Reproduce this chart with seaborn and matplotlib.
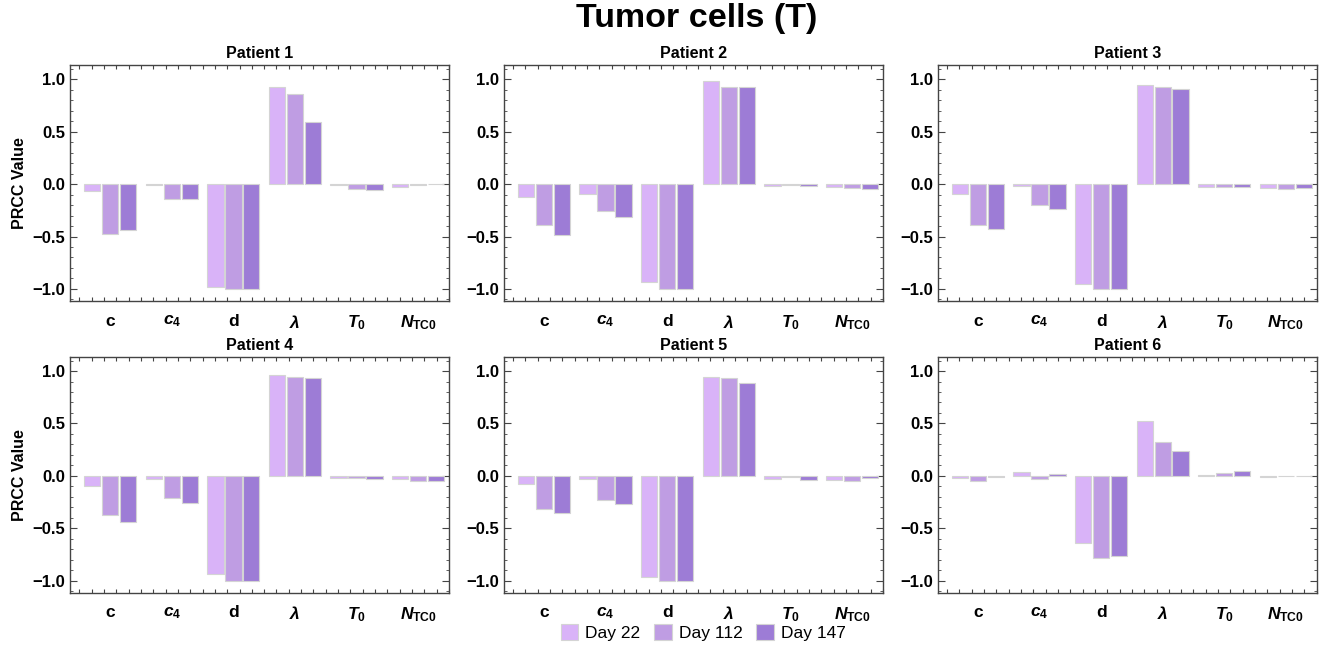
import numpy as np
import pandas as pd
import seaborn as sns
import matplotlib.pyplot as plt
from matplotlib.ticker import MultipleLocator

# parameters on the x axis and the three time points
params = ["c", "$c_4$", "d", r"$\lambda$", "$T_0$", r"$N_{\mathrm{TC0}}$"]
days = ["Day 22", "Day 112", "Day 147"]
day_colors = ["#D9B3F8", "#BF9DE3", "#9D7CD6"]

# PRCC values, one list per day: order c, c4, d, lambda, T0, NTC0
p1_day22 = [-0.07, -0.01, -0.98, 0.93, -0.01, -0.03]
p1_day112 = [-0.48, -0.14, -1.00, 0.86, -0.05, -0.01]
p1_day147 = [-0.44, -0.14, -1.00, 0.59, -0.06, 0.005]

p2_day22 = [-0.12, -0.09, -0.93, 0.98, -0.015, -0.03]
p2_day112 = [-0.39, -0.26, -1.00, 0.93, -0.01, -0.04]
p2_day147 = [-0.49, -0.31, -1.00, 0.93, -0.02, -0.05]

p3_day22 = [-0.09, -0.02, -0.95, 0.95, -0.03, -0.04]
p3_day112 = [-0.39, -0.20, -1.00, 0.93, -0.03, -0.05]
p3_day147 = [-0.43, -0.24, -1.00, 0.91, -0.03, -0.035]

p4_day22 = [-0.10, -0.03, -0.94, 0.96, -0.02, -0.03]
p4_day112 = [-0.37, -0.21, -1.00, 0.94, -0.02, -0.05]
p4_day147 = [-0.44, -0.26, -1.00, 0.93, -0.03, -0.05]

p5_day22 = [-0.08, -0.03, -0.96, 0.94, -0.03, -0.04]
p5_day112 = [-0.32, -0.23, -1.00, 0.93, -0.015, -0.05]
p5_day147 = [-0.35, -0.27, -1.00, 0.89, -0.035, -0.025]

p6_day22 = [-0.02, 0.04, -0.64, 0.52, 0.01, -0.01]
p6_day112 = [-0.05, -0.03, -0.78, 0.32, 0.03, -0.005]
p6_day147 = [-0.015, 0.02, -0.76, 0.24, 0.045, 0.003]

patients = {
    "Patient 1": [p1_day22, p1_day112, p1_day147],
    "Patient 2": [p2_day22, p2_day112, p2_day147],
    "Patient 3": [p3_day22, p3_day112, p3_day147],
    "Patient 4": [p4_day22, p4_day112, p4_day147],
    "Patient 5": [p5_day22, p5_day112, p5_day147],
    "Patient 6": [p6_day22, p6_day112, p6_day147],
}

rows = []
for name, series in patients.items():
    for day, vals in zip(days, series):
        for p, v in zip(params, vals):
            rows.append({"patient": name, "param": p, "day": day, "PRCC": v})
df = pd.DataFrame(rows)

sns.set_style("white")
plt.rcParams["font.family"] = ["Liberation Sans", "DejaVu Sans"]
plt.rcParams["text.color"] = "black"
plt.rcParams["axes.labelcolor"] = "black"
plt.rcParams["xtick.labelcolor"] = "black"
plt.rcParams["ytick.labelcolor"] = "black"
plt.rcParams["mathtext.fontset"] = "custom"
plt.rcParams["mathtext.rm"] = "Liberation Sans:bold"
plt.rcParams["mathtext.bf"] = "Liberation Sans:bold"
plt.rcParams["mathtext.it"] = "Liberation Sans:italic:bold"

fig, axes = plt.subplots(2, 3, figsize=(13.22, 6.45), dpi=100)
fig.subplots_adjust(left=0.053, right=0.996, bottom=0.081, top=0.899,
                    wspace=0.145, hspace=0.237)

palette = dict(zip(days, day_colors))
for i, (ax, name) in enumerate(zip(axes.flat, patients)):
    sub = df[df["patient"] == name]
    sns.barplot(data=sub, x="param", y="PRCC", hue="day", order=params,
                hue_order=days, palette=palette, width=0.875, gap=0.09,
                edgecolor="#d4d4d4", linewidth=0.8, saturation=1,
                legend=(i == 0), ax=ax)
    ax.set_xlim(-0.65, 5.5)
    ax.set_ylim(-1.115, 1.135)
    ax.set_title(name, fontsize=11.5, fontweight="bold", pad=5, color="black")
    ax.set_xlabel("")
    if i % 3 == 0:
        ax.set_ylabel("PRCC Value", fontsize=11.5, fontweight="bold")
    else:
        ax.set_ylabel("")
    ax.set_yticks([-1.0, -0.5, 0.0, 0.5, 1.0])
    ax.yaxis.set_minor_locator(MultipleLocator(0.1))
    ax.set_xticks(range(len(params)))
    ax.set_xticklabels(params, fontweight="bold")
    ax.set_xticks(np.arange(-0.5, 5.6, 0.2), minor=True)
    ax.tick_params(axis="x", which="major", length=0, labelsize=12.5, pad=9)
    ax.tick_params(axis="x", which="minor", direction="in", length=3,
                   width=0.8, color="#444444", top=True, bottom=True)
    ax.tick_params(axis="y", which="major", direction="in", length=5,
                   width=0.8, color="#444444", labelsize=12, left=True, right=True)
    ax.tick_params(axis="y", which="minor", direction="in", length=2.5,
                   width=0.6, color="#444444", left=True, right=True)
    for lab in ax.get_yticklabels():
        lab.set_fontweight("bold")
    for s in ax.spines.values():
        s.set_color("#444444")
        s.set_linewidth(1.0)

handles, labels = axes.flat[0].get_legend_handles_labels()
axes.flat[0].get_legend().remove()
fig.legend(handles, labels, loc="center", bbox_to_anchor=(0.532, 0.019),
           ncol=3, frameon=False, fontsize=12.5, handlelength=1.0,
           handleheight=1.0, handletextpad=0.4, columnspacing=0.8)

fig.suptitle("Tumor cells (T)", fontsize=24.5, fontweight="bold", x=0.527, y=0.995)

fig.savefig("out.png", dpi=100)
